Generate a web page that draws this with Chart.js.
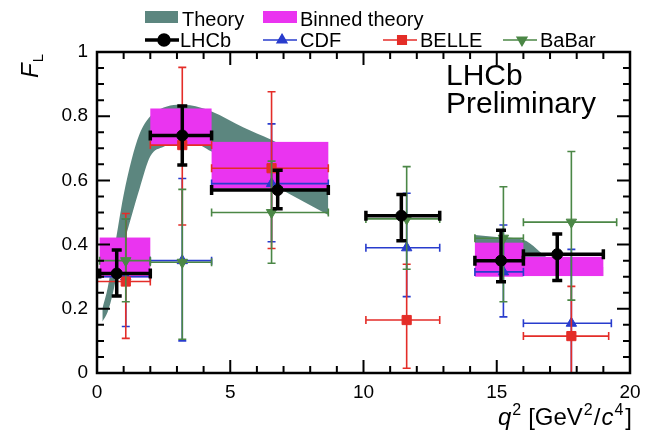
<!DOCTYPE html>
<html>
<head>
<meta charset="utf-8">
<script src="https://cdn.jsdelivr.net/npm/chart.js@4.4.0/dist/chart.umd.min.js"></script>
<style>
html, body { margin: 0; padding: 0; background: #fff; }
</style>
</head>
<body>
<canvas id="fl" width="650" height="432"></canvas>
<script>
// Theory band (SM prediction), two q2 regions
const theoryLowQ2 = [0.2, 0.4, 0.6, 0.8, 1.0, 1.3, 1.6, 2.0, 2.5, 3.0, 3.5, 4.3, 5.5, 6.5, 7.5, 8.68]
const theoryLowUpper = [0.20, 0.265, 0.36, 0.46, 0.555, 0.665, 0.745, 0.80, 0.827, 0.836, 0.834, 0.815, 0.765, 0.728, 0.685, 0.64]
const theoryLowLower = [0.16, 0.19, 0.25, 0.33, 0.40, 0.49, 0.575, 0.675, 0.705, 0.72, 0.72, 0.69, 0.635, 0.59, 0.545, 0.492]
const theoryHighQ2 = [14.18, 15, 16, 17, 18, 19]
const theoryHighUpper = [0.43, 0.424, 0.415, 0.355, 0.34, 0.33]
const theoryHighLower = [0.32, 0.315, 0.31, 0.305, 0.303, 0.302]

// Binned theory
const binnedQ2Lo = [0.1, 2, 4.3, 14.18, 16]
const binnedQ2Hi = [2, 4.3, 8.68, 16, 19]
const binnedFLLo = [0.298, 0.71, 0.575, 0.30, 0.302]
const binnedFLHi = [0.422, 0.824, 0.72, 0.406, 0.362]

// LHCb
const lhcbQ2 = [0.74, 3.2, 6.78, 11.42, 15.16, 17.27]
const lhcbBinLo = [0.1, 2, 4.3, 10.09, 14.18, 16]
const lhcbBinHi = [2, 4.3, 8.68, 12.86, 16, 19]
const lhcbFL = [0.31, 0.74, 0.57, 0.49, 0.35, 0.37]
const lhcbFLLo = [0.24, 0.648, 0.512, 0.412, 0.284, 0.288]
const lhcbFLHi = [0.383, 0.832, 0.632, 0.556, 0.445, 0.433]

// CDF
const cdfQ2 = [1.08, 3.2, 6.55, 11.62, 15.25, 17.8]
const cdfBinLo = [0, 2, 4.3, 10.09, 14.18, 16]
const cdfBinHi = [2, 4.3, 8.68, 12.86, 16, 19.3]
const cdfFL = [0.30, 0.35, 0.59, 0.39, 0.315, 0.155]
const cdfFLLo = [0.145, 0.10, 0.409, 0.238, 0.175, -0.1]
const cdfFLHi = [0.48, 0.606, 0.776, 0.56, 0.461, 0.385]

// BELLE
const belleQ2 = [1.08, 3.2, 6.55, 11.62, 17.8]
const belleBinLo = [0, 2, 4.3, 10.09, 16]
const belleBinHi = [2, 4.3, 8.68, 12.86, 19.2]
const belleFL = [0.285, 0.71, 0.638, 0.165, 0.115]
const belleFLLo = [0.108, 0.461, 0.388, 0.015, -0.015]
const belleFLHi = [0.497, 0.952, 0.876, 0.339, 0.27]

// BaBar
const babarQ2 = [1.08, 3.2, 6.55, 11.62, 15.25, 17.8]
const babarBinLo = [0.1, 2, 4.3, 10.09, 14.18, 16]
const babarBinHi = [2, 4.3, 8.68, 12.86, 16, 19.5]
const babarFL = [0.35, 0.345, 0.50, 0.48, 0.42, 0.47]
const babarFLLo = [0.222, 0.105, 0.342, 0.323, 0.222, 0.227]
const babarFLHi = [0.48, 0.572, 0.66, 0.643, 0.58, 0.69]

const fam = "'Liberation Sans', Arial, Helvetica, sans-serif"
const bandColor = 'rgb(92,134,127)'
const binColor = 'rgb(234,52,240)'
const cdfColor = 'rgb(40,60,205)'
const belleColor = 'rgb(228,45,40)'
const babarColor = 'rgb(75,135,70)'

Chart.defaults.font.family = fam
Chart.defaults.color = '#000'

function pts(xs, ys) {
	return xs.map((x, i) => ({x: x, y: ys[i]}))
}

function bandLine(xs, ys, fill, order) {
	return {
		type: 'line',
		data: pts(xs, ys),
		borderColor: 'rgba(0,0,0,0)',
		backgroundColor: bandColor,
		pointRadius: 0,
		cubicInterpolationMode: 'monotone',
		fill: fill,
		order: order
	}
}

function measurement(label, xs, ys, binLo, binHi, lo, hi, color, style, radius, rot, width, cap, order) {
	return {
		type: 'scatter',
		label: label,
		data: pts(xs, ys),
		pointStyle: style,
		pointRadius: radius,
		pointRotation: rot,
		backgroundColor: color,
		borderColor: color,
		borderWidth: 1,
		errXLo: binLo,
		errXHi: binHi,
		errYLo: lo,
		errYHi: hi,
		errWidth: width,
		capHalf: cap,
		order: order
	}
}

const decor = {
	id: 'flDecor',
	beforeDatasetDraw(chart, args) {
		const ds = chart.data.datasets[args.index]
		const ctx = chart.ctx
		const xs = chart.scales.x, ys = chart.scales.y, a = chart.chartArea
		ctx.save()
		ctx.beginPath()
		ctx.rect(a.left, a.top, a.right - a.left, a.bottom - a.top)
		ctx.clip()
		if (ds.boxLo) {
			ctx.fillStyle = binColor
			for (let i = 0; i < ds.boxLo.length; i++) {
				const x0 = xs.getPixelForValue(ds.boxLo[i]), x1 = xs.getPixelForValue(ds.boxHi[i])
				const y0 = ys.getPixelForValue(ds.boxYHi[i]), y1 = ys.getPixelForValue(ds.boxYLo[i])
				ctx.fillRect(x0, y0, x1 - x0, y1 - y0)
			}
		}
		if (ds.errYLo) {
			ctx.strokeStyle = ds.borderColor
			ctx.lineWidth = ds.errWidth
			const c = ds.capHalf
			for (let i = 0; i < ds.data.length; i++) {
				const px = xs.getPixelForValue(ds.data[i].x), py = ys.getPixelForValue(ds.data[i].y)
				const xl = xs.getPixelForValue(ds.errXLo[i]), xh = xs.getPixelForValue(ds.errXHi[i])
				const yl = ys.getPixelForValue(ds.errYLo[i]), yh = ys.getPixelForValue(ds.errYHi[i])
				ctx.beginPath()
				ctx.moveTo(xl, py); ctx.lineTo(xh, py)
				ctx.moveTo(px, yl); ctx.lineTo(px, yh)
				ctx.moveTo(xl, py - c); ctx.lineTo(xl, py + c)
				ctx.moveTo(xh, py - c); ctx.lineTo(xh, py + c)
				ctx.moveTo(px - c, yl); ctx.lineTo(px + c, yl)
				ctx.moveTo(px - c, yh); ctx.lineTo(px + c, yh)
				ctx.stroke()
			}
		}
		ctx.restore()
	},
	afterDraw(chart) {
		const ctx = chart.ctx
		const xs = chart.scales.x, ys = chart.scales.y, a = chart.chartArea
		ctx.save()
		// frame and inner ticks
		ctx.strokeStyle = '#000'
		ctx.lineWidth = 2.5
		ctx.strokeRect(a.left, a.top, a.right - a.left, a.bottom - a.top)
		ctx.lineWidth = 2
		ctx.beginPath()
		for (let q = 1; q < 20; q++) {
			const px = xs.getPixelForValue(q)
			const len = q % 5 === 0 ? 13 : 7
			ctx.moveTo(px, a.bottom); ctx.lineTo(px, a.bottom - len)
			ctx.moveTo(px, a.top); ctx.lineTo(px, a.top + len)
		}
		for (let k = 1; k < 20; k++) {
			const py = ys.getPixelForValue(k * 0.05)
			const len = k % 4 === 0 ? 13 : 7
			ctx.moveTo(a.left, py); ctx.lineTo(a.left + len, py)
			ctx.moveTo(a.right, py); ctx.lineTo(a.right - len, py)
		}
		ctx.stroke()

		// x axis title, right aligned, flowing pieces [text, font, raise, gap after]
		ctx.fillStyle = '#000'
		ctx.textAlign = 'left'
		ctx.textBaseline = 'alphabetic'
		const parts = [
			['q', 'italic 24px ', 0, 1], ['2', '16px ', -10, 7], ['[GeV', '24px ', 0, 1],
			['2', '16px ', -10, 1], ['/', '24px ', 0, 1], ['c', 'italic 24px ', 0, 1],
			['4', '16px ', -10, 2], [']', '24px ', 0, 0]
		]
		let total = 0
		parts.forEach(p => { ctx.font = p[1] + fam; total += ctx.measureText(p[0]).width + p[3] })
		let tx = a.right + 2 - total
		parts.forEach(p => {
			ctx.font = p[1] + fam
			ctx.fillText(p[0], tx, 425 + p[2])
			tx += ctx.measureText(p[0]).width + p[3]
		})

		// y axis title F_L
		ctx.save()
		ctx.translate(38, 78)
		ctx.rotate(-Math.PI / 2)
		ctx.font = 'italic 24px ' + fam
		ctx.fillText('F', 0, 0)
		const fw = ctx.measureText('F').width
		ctx.font = '15px ' + fam
		ctx.fillText('L', fw + 1, 5)
		ctx.restore()

		// LHCb Preliminary
		ctx.font = '30px ' + fam
		ctx.fillText('LHCb', 446, 85)
		ctx.fillText('Preliminary', 446, 113)

		// legend
		const dsets = chart.data.datasets
		ctx.font = '20px ' + fam
		ctx.fillStyle = bandColor
		ctx.fillRect(145, 11, 33, 12)
		ctx.fillStyle = binColor
		ctx.fillRect(263, 11, 34, 12)
		ctx.fillStyle = '#000'
		ctx.fillText('Theory', 182, 26)
		ctx.fillText('Binned theory', 300, 26)
		const row = [
			[dsets[5], 145, 180],
			[dsets[6], 263, 300],
			[dsets[7], 383, 420],
			[dsets[8], 503, 540]
		]
		row.forEach(r => {
			const d = r[0]
			ctx.strokeStyle = d.borderColor
			ctx.lineWidth = d.errWidth
			ctx.beginPath()
			ctx.moveTo(r[1], 40); ctx.lineTo(r[1] + 34, 40)
			ctx.stroke()
			Chart.helpers.drawPoint(ctx, {
				pointStyle: d.pointStyle, radius: d.pointRadius - 0.5, rotation: d.pointRotation, borderWidth: 1
			}, r[1] + 19, 40)
			ctx.fillStyle = d.borderColor
			ctx.fill()
			ctx.fillStyle = '#000'
			ctx.fillText(d.label, r[2], 47)
		})
		ctx.restore()
	}
}

const chart = new Chart(document.getElementById('fl').getContext('2d'), {
	type: 'scatter',
	data: {
		datasets: [
			bandLine(theoryLowQ2, theoryLowLower, false, 9),
			bandLine(theoryLowQ2, theoryLowUpper, '-1', 8),
			bandLine(theoryHighQ2, theoryHighLower, false, 7),
			bandLine(theoryHighQ2, theoryHighUpper, '-1', 6),
			{type: 'scatter', data: [], boxLo: binnedQ2Lo, boxHi: binnedQ2Hi, boxYLo: binnedFLLo, boxYHi: binnedFLHi, order: 5},
			measurement('LHCb', lhcbQ2, lhcbFL, lhcbBinLo, lhcbBinHi, lhcbFLLo, lhcbFLHi, '#000', 'circle', 5.5, 0, 3.5, 5, 0),
			measurement('CDF', cdfQ2, cdfFL, cdfBinLo, cdfBinHi, cdfFLLo, cdfFLHi, cdfColor, 'triangle', 6, 0, 1.6, 4, 4),
			measurement('BELLE', belleQ2, belleFL, belleBinLo, belleBinHi, belleFLLo, belleFLHi, belleColor, 'rect', 6.5, 0, 1.6, 4, 3),
			measurement('BaBar', babarQ2, babarFL, babarBinLo, babarBinHi, babarFLLo, babarFLHi, babarColor, 'triangle', 6, 180, 1.6, 4, 2)
		]
	},
	options: {
		responsive: false,
		animation: false,
		devicePixelRatio: 1,
		layout: {padding: {top: 52, right: 20, bottom: 0, left: 0}},
		plugins: {legend: {display: false}, tooltip: {enabled: false}},
		scales: {
			x: {
				type: 'linear', min: 0, max: 20,
				ticks: {stepSize: 5, padding: 8, maxRotation: 0, font: {size: 19}, color: '#000'},
				grid: {display: false, drawTicks: false},
				border: {display: false},
				afterFit(s) { s.height = 59 }
			},
			y: {
				type: 'linear', min: 0, max: 1,
				ticks: {
					stepSize: 0.2, padding: 9, font: {size: 19}, color: '#000',
					callback: v => String(Math.round(v * 10) / 10)
				},
				grid: {display: false, drawTicks: false},
				border: {display: false},
				afterFit(s) { s.width = 97 }
			}
		}
	},
	plugins: [decor]
})
</script>
</body>
</html>
